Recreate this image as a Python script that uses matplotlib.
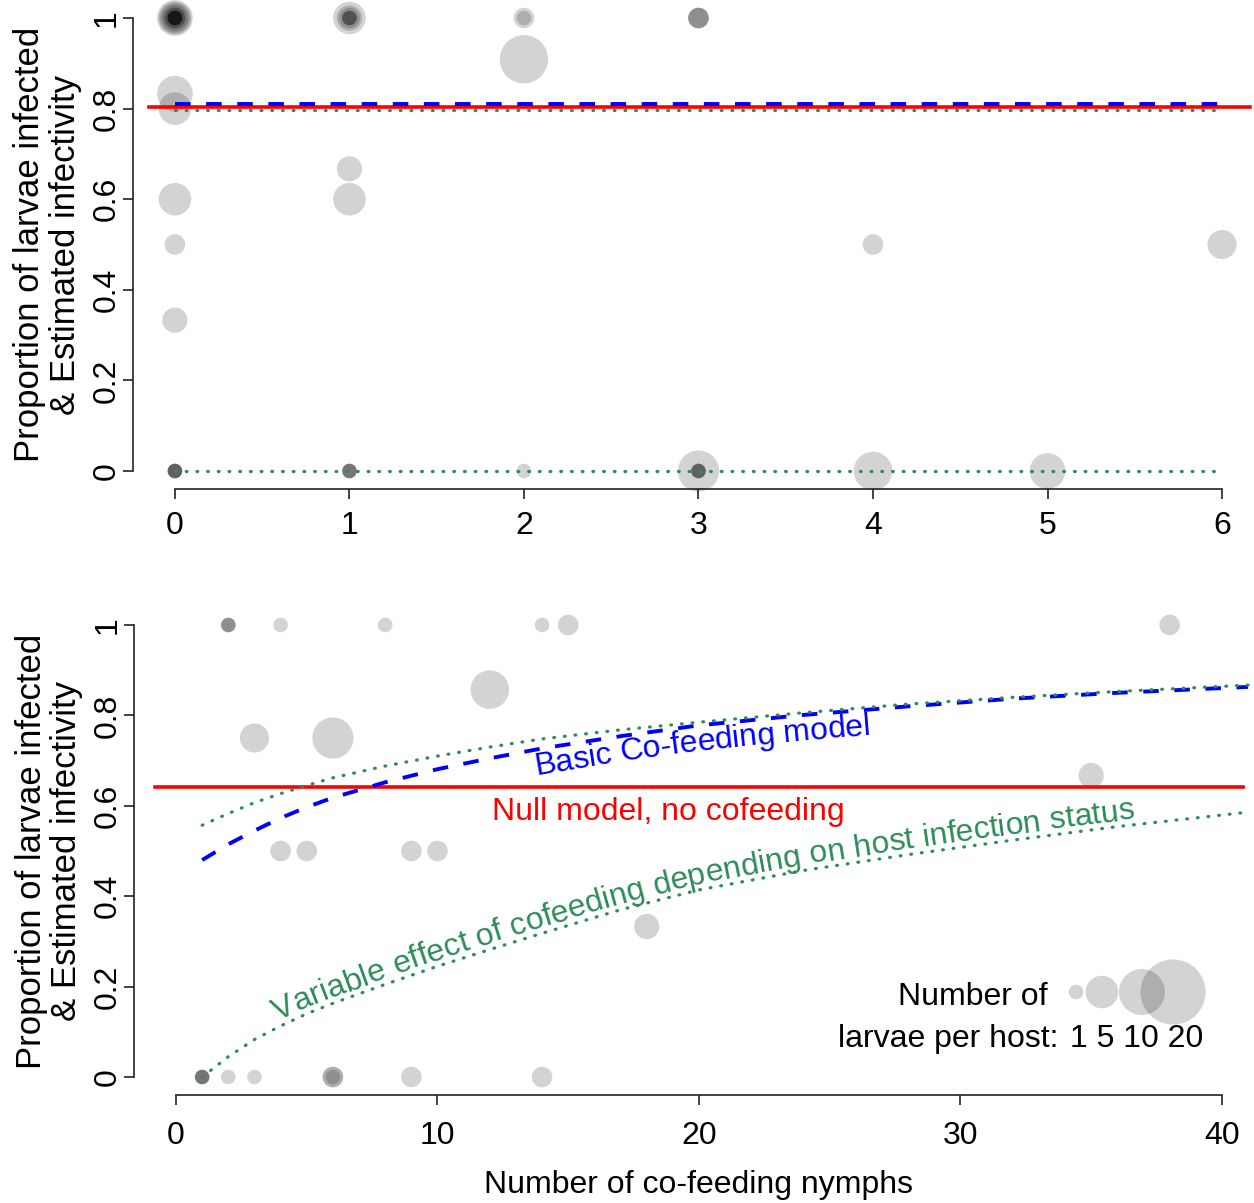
import numpy as np
import matplotlib.pyplot as plt
from matplotlib.font_manager import findfont, FontProperties
from matplotlib.ft2font import FT2Font

plt.rcParams['font.family'] = ['Liberation Sans', 'DejaVu Sans']

# top panel: one entry per host (nymphs on host, proportion of larvae infected, larvae on host)
top_nymphs = [0, 0, 0, 0, 0, 0, 0, 0, 0, 0, 0, 0,
              0, 0, 0, 0, 0,
              0, 0, 0, 0, 0,
              1, 1, 1, 1, 1, 1,
              1, 1,
              1, 1, 1, 1,
              2, 2, 2, 2,
              3, 3, 3,
              3, 3, 3, 3, 3,
              4, 4, 5, 6]
top_prop = [1, 1, 1, 1, 1, 1, 1, 1, 1, 1, 1, 1,
            0.833, 0.8, 0.6, 0.5, 0.333,
            0, 0, 0, 0, 0,
            1, 1, 1, 1, 1, 1,
            0.667, 0.6,
            0, 0, 0, 0,
            1, 1, 0.909, 0,
            1, 1, 1,
            0, 0, 0, 0, 0,
            0.5, 0, 0, 0.5]
top_larvae = [6, 5, 4, 3, 2, 2, 1, 1, 1, 1, 1, 1,
              6, 5, 5, 2, 3,
              1, 1, 1, 1, 1,
              5, 3, 2, 1, 1, 1,
              3, 5,
              1, 1, 1, 1,
              2, 1, 11, 1,
              2, 2, 2,
              8, 1, 1, 1, 1,
              2, 7, 6, 4]

# top panel model estimates (constant over nymph number)
top_range = [0, 6]
top_null = 0.804
top_basic = 0.81
top_var_high = 0.797
top_var_low = 0.0

# bottom panel hosts
bot_nymphs = [1, 1, 1, 1, 2, 3, 6, 6, 6, 9, 14,
              2, 2, 2, 4, 8, 14, 15, 38,
              12, 3, 6, 4, 5, 9, 10, 18, 35]
bot_prop = [0, 0, 0, 0, 0, 0, 0, 0, 0, 0, 0,
            1, 1, 1, 1, 1, 1, 1, 1,
            0.857, 0.75, 0.75, 0.5, 0.5, 0.5, 0.5, 0.333, 0.667]
bot_larvae = [1, 1, 1, 1, 1, 1, 2, 2, 1, 2, 2,
              1, 1, 1, 1, 1, 1, 2, 2,
              7, 4, 8, 2, 2, 2, 2, 3, 3]

# bottom panel model curves
curve_x = [1, 2, 3, 4, 5, 6, 8, 10, 12, 14, 17, 20, 24, 28, 32, 36, 41]
basic_y = [0.48, 0.515, 0.545, 0.573, 0.597, 0.618, 0.652, 0.681, 0.705, 0.727,
           0.754, 0.778, 0.801, 0.82, 0.837, 0.85, 0.863]
var_high_y = [0.557, 0.583, 0.607, 0.627, 0.645, 0.662, 0.688, 0.71, 0.73, 0.748,
              0.768, 0.785, 0.806, 0.825, 0.84, 0.853, 0.867]
var_low_y = [0.0, 0.045, 0.083, 0.113, 0.14, 0.163, 0.205, 0.245, 0.282, 0.318,
             0.37, 0.414, 0.457, 0.492, 0.524, 0.554, 0.586]
bot_null = 0.642
bot_null_range = [-0.8, 40.8]

legend_sizes = [1, 5, 10, 20]

RED = '#FF0000'
BLUE = '#0000FF'
GREEN = '#2E8B57'
FS = 23
SIZE = 110  # marker area per larva
DOT = dict(color=GREEN, lw=2.3, ls=(0, (0.25, 3.1)), dash_capstyle='round', zorder=4)
DASH = dict(color=BLUE, lw=2.8, ls=(0, (4, 4)), zorder=4)


def style_axes(ax, xmax, xticks):
    for s in ['top', 'right']:
        ax.spines[s].set_visible(False)
    ax.spines['left'].set_bounds(0, 1)
    ax.spines['bottom'].set_bounds(0, xmax)
    for s in ['left', 'bottom']:
        ax.spines[s].set_linewidth(1.2)
        ax.spines[s].set_color('#222222')
    ax.set_xlim(-0.04 * xmax, 1.04 * xmax)
    ax.set_ylim(-0.04, 1.04)
    ax.set_xticks(xticks)
    ax.set_yticks([0, 0.2, 0.4, 0.6, 0.8, 1])
    ax.set_yticklabels(['0', '0.2', '0.4', '0.6', '0.8', '1'], rotation=90, va='center')
    ax.tick_params(length=7.5, width=1.2, color='#222222', labelsize=FS)
    ax.tick_params(axis='y', pad=0.5)
    ax.set_ylabel('Proportion of larvae infected\n& Estimated infectivity',
                  fontsize=25, linespacing=1.1)
    ax.yaxis.set_label_coords(-0.0452, 0.5)


def curve_text(ax, xs, ys, text, x_start, offset, color):
    # write text letter by letter along a model curve, offset (px) along the normal
    pts = ax.transData.transform(np.column_stack([xs, ys]))
    d = np.diff(pts, axis=0)
    seg = np.hypot(d[:, 0], d[:, 1])
    cum = np.concatenate([[0], np.cumsum(seg)])
    ang = np.arctan2(d[:, 1], d[:, 0])
    mids = (cum[:-1] + cum[1:]) / 2
    x0 = ax.transData.transform((x_start, np.interp(x_start, xs, ys)))[0]
    s = np.interp(x0, pts[:, 0], cum)
    font = FT2Font(findfont(FontProperties(family='Liberation Sans')))
    font.set_size(FS, ax.figure.dpi)
    inv = ax.transData.inverted()
    for ch in text:
        adv = font.load_char(ord(ch)).linearHoriAdvance / 65536
        sm = s + adv / 2
        i = int(np.clip(np.searchsorted(cum, sm) - 1, 0, len(seg) - 1))
        p = pts[i] + (sm - cum[i]) * d[i] / seg[i]
        a = np.interp(sm, mids, ang)
        p = p + offset * np.array([-np.sin(a), np.cos(a)])
        xd, yd = inv.transform(p)
        ax.text(xd, yd, ch, color=color, fontsize=FS, rotation=np.degrees(a),
                rotation_mode='anchor', ha='center', va='baseline')
        s += adv


fig = plt.figure(figsize=(12.54, 12.03), dpi=100)
ax1 = fig.add_axes([0.1061, 0.5934, 0.9018, 0.4067])
ax2 = fig.add_axes([0.1070, 0.0897, 0.9008, 0.4058])

# ---- top panel
ax1.scatter(top_nymphs, top_prop, s=[SIZE * n for n in top_larvae], color='black',
            alpha=0.173, linewidths=0, clip_on=False, zorder=1)
ax1.plot([-0.15, 6.16], [top_null, top_null], color=RED, lw=2.6, zorder=3)
ax1.plot(top_range, [top_basic, top_basic], **DASH)
ax1.plot(top_range, [top_var_high, top_var_high], **DOT)
ax1.plot(top_range, [top_var_low, top_var_low], **DOT)
style_axes(ax1, 6, range(7))
ax1.tick_params(axis='x', pad=8)

# ---- bottom panel
ax2.scatter(bot_nymphs, bot_prop, s=[SIZE * n for n in bot_larvae], color='black',
            alpha=0.173, linewidths=0, clip_on=False, zorder=1)
ax2.plot(bot_null_range, [bot_null, bot_null], color=RED, lw=2.6, zorder=3)
ax2.plot(curve_x, basic_y, **DASH)
ax2.plot(curve_x, var_high_y, **DOT)
ax2.plot(curve_x, var_low_y, **DOT)
style_axes(ax2, 40, range(0, 41, 10))
ax2.tick_params(axis='x', pad=11)
ax2.set_xlabel('Number of co-feeding nymphs', fontsize=FS)
ax2.xaxis.set_label_coords(0.5, -0.153)

curve_text(ax2, curve_x, basic_y, 'Basic Co-feeding model', 13.6, -25, BLUE)
ax2.text(18.81, 0.569, 'Null model, no cofeeding', color=RED, fontsize=FS,
         ha='center', va='baseline')
curve_text(ax2, curve_x, var_low_y,
           'Variable effect of cofeeding depending on host infection status', 4.0, 6, GREEN)

# size legend
leg_x = [34.42, 35.41, 36.94, 38.13]
ax2.scatter(leg_x, [0.188] * 4, s=[SIZE * n for n in legend_sizes], color='black',
            alpha=0.173, linewidths=0, zorder=1)
ax2.text(33.35, 0.177, 'Number of', fontsize=FS, ha='right', va='center')
ax2.text(33.73, 0.084, 'larvae per host:', fontsize=FS, ha='right', va='center')
ax2.text(34.19, 0.084, ' '.join(str(n) for n in legend_sizes), fontsize=FS,
         ha='left', va='center')

fig.savefig('out.png', dpi=100)
